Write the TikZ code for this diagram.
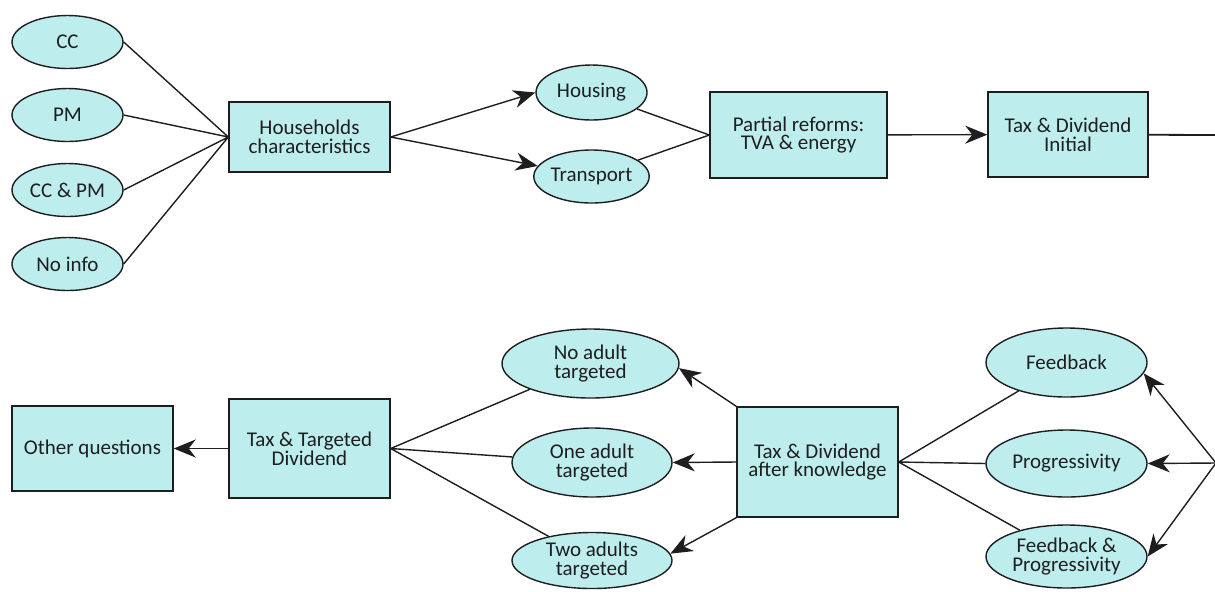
\documentclass[tikz,border=0pt]{standalone}
\usepackage{fontspec}
\setmainfont{Carlito}
\usetikzlibrary{shapes.geometric,arrows.meta}

\definecolor{cellfill}{RGB}{190,237,237}
\definecolor{ink}{RGB}{30,30,30}

\begin{document}
\begin{tikzpicture}[x=0.5pt,y=-0.5pt,
    every node/.style={font=\fontsize{10.5}{9.3}\selectfont,text=ink,align=center},
    box/.style={draw=ink,fill=cellfill,line width=0.7pt,inner sep=0pt},
    oval/.style={ellipse,draw=ink,fill=cellfill,line width=0.7pt,inner sep=0pt},
    link/.style={line width=0.7pt,draw=ink},
    arr/.style={link,-{Stealth[length=11pt,width=9pt,inset=3.5pt]}}]
    \useasboundingbox[fill=white] (0,0) rectangle (1215,591);

    % first row
    \node[oval,minimum width=55.5pt,minimum height=26.5pt] (cc) at (67.5,42) {CC};
    \node[oval,minimum width=55.5pt,minimum height=26.5pt] (pm) at (67.5,115) {PM};
    \node[oval,minimum width=55.5pt,minimum height=26.5pt] (ccpm) at (67.5,190) {CC \& PM};
    \node[oval,minimum width=55.5pt,minimum height=26.5pt] (noinfo) at (67.5,264) {No info};
    \node[box,minimum width=80.5pt,minimum height=35pt] (house) at (309.5,137) {Households\\characteristics};
    \node[oval,minimum width=55.5pt,minimum height=27.5pt] (housing) at (591.5,92.5) {Housing};
    \node[oval,minimum width=55.5pt,minimum height=26.5pt] (transport) at (591.5,176.5) {Transport};
    \node[box,minimum width=88.5pt,minimum height=43pt] (partial) at (798.5,135) {Partial reforms:\\TVA \& energy};
    \node[box,minimum width=80pt,minimum height=42.5pt] (taxinit) at (1068,134.5) {Tax \& Dividend\\Initial};
    \coordinate (outA) at (1216,135);

    \draw[link] (cc.east) -- (house.west) (pm.east) -- (house.west)
      (ccpm.east) -- (house.west) (noinfo.east) -- (house.west);
    \draw[arr] (house.east) -- (housing.west);
    \draw[arr] (house.east) -- (transport);
    \draw[link] (housing) -- (partial.west) (transport) -- (partial.west);
    \draw[arr] (partial) -- (taxinit);
    \draw[link,line width=0.9pt] (taxinit) -- (outA);

    % second row
    \node[box,minimum width=80.5pt,minimum height=42.5pt] (other) at (92.5,448.5) {Other questions};
    \node[box,minimum width=80.5pt,minimum height=49.5pt] (targeted) at (309.5,448.5) {Tax \& Targeted\\Dividend};
    \node[oval,minimum width=88.5pt,minimum height=34.5pt] (noadult) at (590.5,363.5) {No adult\\targeted};
    \node[oval,minimum width=80pt,minimum height=34.5pt] (oneadult) at (592,462.5) {One adult\\targeted};
    \node[oval,minimum width=80pt,minimum height=28pt] (twoadults) at (592,560.5) {Two adults\\targeted};
    \node[box,minimum width=80.5pt,minimum height=55pt] (know) at (817.5,462) {Tax \& Dividend\\after knowledge};
    \node[oval,minimum width=80.5pt,minimum height=34.5pt] (feedback) at (1066.5,362.5) {Feedback};
    \node[oval,minimum width=80.5pt,minimum height=33.5pt] (progress) at (1066.5,463.5) {Progressivity};
    \node[oval,minimum width=80.5pt,minimum height=31.5pt] (fbprog) at (1066.5,556.5) {Feedback \&\\Progressivity};
    \coordinate (outB) at (1216,463);

    \draw[arr] (targeted) -- (other);
    \draw[link] (targeted.east) -- (noadult) (targeted.east) -- (oneadult) (targeted.east) -- (twoadults);
    \draw[arr] (know.north west) -- (noadult.-3);
    \draw[arr] (know.west) -- (oneadult.east);
    \draw[arr] (know.south west) -- (twoadults.5);
    \draw[link] (know.east) -- (feedback) (know.east) -- (progress.west) (know.east) -- (fbprog);
    \draw[arr] (outB) -- (feedback.-8);
    \draw[arr] (outB) -- (progress.east);
    \draw[arr] (outB) -- (fbprog.east);
\end{tikzpicture}
\end{document}
